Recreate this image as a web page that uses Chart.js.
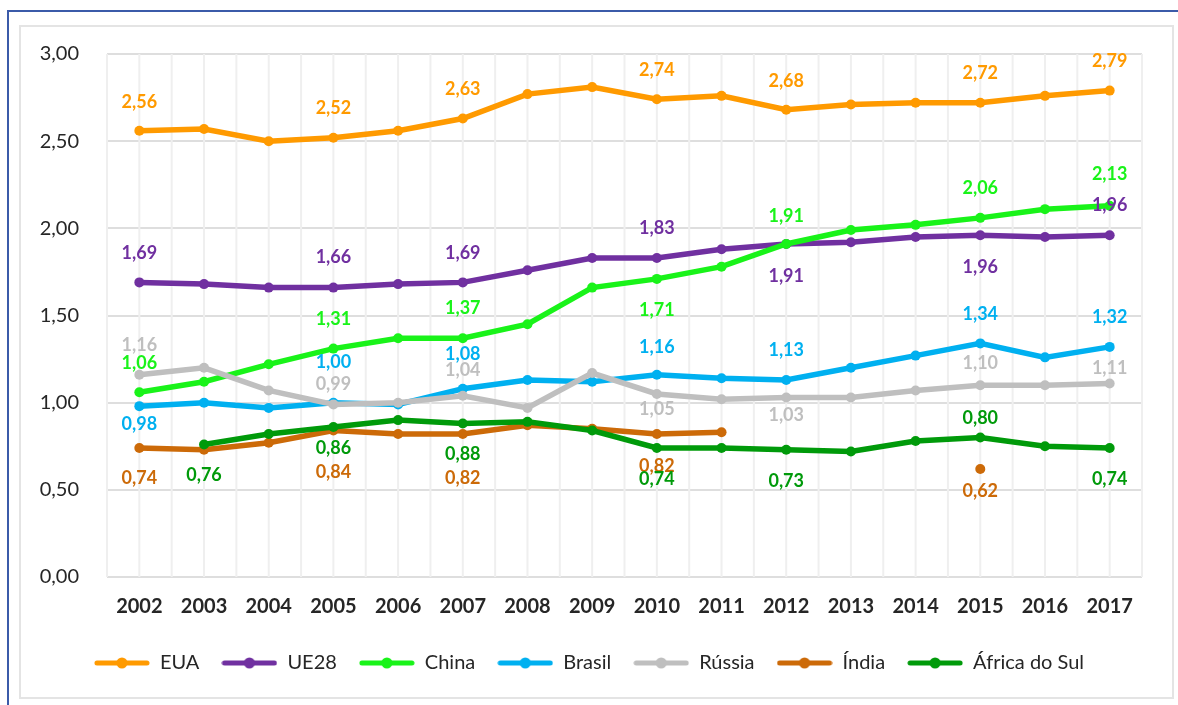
<!DOCTYPE html>
<html>
<head>
<meta charset="utf-8">
<script src="https://cdn.jsdelivr.net/npm/chart.js@4"></script>
<style>
  body { margin: 0; background: #fff; }
  #frame { position: absolute; left: 7px; top: 10px; width: 1171px; height: 695px;
           border-top: 2px solid #3b5ba9; border-left: 2px solid #3b5ba9; }
  #box { position: absolute; left: 19px; top: 25px; width: 1151px; height: 670px;
         border: 2px solid #e4e4e4; }
  canvas { position: absolute; left: 0; top: 0; }
</style>
</head>
<body>
<div id="frame"></div>
<div id="box"></div>
<canvas id="myChart" width="1178" height="705"></canvas>
<script>
const years = ['2002','2003','2004','2005','2006','2007','2008','2009','2010','2011','2012','2013','2014','2015','2016','2017'];
const yTicks = [0, 0.5, 1, 1.5, 2, 2.5, 3];

const eua    = [2.56, 2.57, 2.50, 2.52, 2.56, 2.63, 2.77, 2.81, 2.74, 2.76, 2.68, 2.71, 2.72, 2.72, 2.76, 2.79];
const ue28   = [1.69, 1.68, 1.66, 1.66, 1.68, 1.69, 1.76, 1.83, 1.83, 1.88, 1.91, 1.92, 1.95, 1.96, 1.95, 1.96];
const china  = [1.06, 1.12, 1.22, 1.31, 1.37, 1.37, 1.45, 1.66, 1.71, 1.78, 1.91, 1.99, 2.02, 2.06, 2.11, 2.13];
const brasil = [0.98, 1.00, 0.97, 1.00, 0.99, 1.08, 1.13, 1.12, 1.16, 1.14, 1.13, 1.20, 1.27, 1.34, 1.26, 1.32];
const russia = [1.16, 1.20, 1.07, 0.99, 1.00, 1.04, 0.97, 1.17, 1.05, 1.02, 1.03, 1.03, 1.07, 1.10, 1.10, 1.11];
const india  = [0.74, 0.73, 0.77, 0.84, 0.82, 0.82, 0.87, 0.85, 0.82, 0.83, null, null, null, 0.62, null, null];
const africa = [null, 0.76, 0.82, 0.86, 0.90, 0.88, 0.89, 0.84, 0.74, 0.74, 0.73, 0.72, 0.78, 0.80, 0.75, 0.74];

// which points carry a value label, and how far the label sits from its point (px, + = below)
const euaLbl    = {idx: [0, 3, 5, 8, 10, 13, 15], dy: [-29, -29, -29, -29, -29, -30, -29]};
const ue28Lbl   = {idx: [0, 3, 5, 8, 10, 13, 15], dy: [-29, -30, -29, -30, 32, 32, -30]};
const chinaLbl  = {idx: [0, 3, 5, 8, 10, 13, 15], dy: [-29, -29, -30, 31, -28, -30, -31]};
const brasilLbl = {idx: [0, 3, 5, 8, 10, 13, 15], dy: [18, -40, -35, -28, -30, -29, -30]};
const russiaLbl = {idx: [0, 3, 5, 8, 10, 13, 15], dy: [-30, -20, -26, 15, 18, -22, -15]};
const indiaLbl  = {idx: [0, 3, 5, 8, 13], dy: [30, 42, 44, 32, 22]};
const africaLbl = {idx: [1, 3, 5, 8, 10, 13, 15], dy: [31, 21, 31, 31, 31, -19, 31]};

const series = [
  {label: 'EUA', data: eua, color: '#ff9a00', lbl: euaLbl},
  {label: 'UE28', data: ue28, color: '#7030a0', lbl: ue28Lbl},
  {label: 'China', data: china, color: '#19f319', lbl: chinaLbl},
  {label: 'Brasil', data: brasil, color: '#00b0f0', lbl: brasilLbl},
  {label: 'Rússia', data: russia, color: '#bfbfbf', lbl: russiaLbl},
  {label: 'Índia', data: india, color: '#cc6a08', lbl: indiaLbl},
  {label: 'África do Sul', data: africa, color: '#009a0a', lbl: africaLbl}
];

function fmt(v) { return v.toFixed(2).replace('.', ','); }

function legendIcon(color) {
  const c = document.createElement('canvas');
  c.width = 56; c.height = 14;
  const g = c.getContext('2d');
  g.strokeStyle = color; g.lineWidth = 5; g.lineCap = 'round';
  g.beginPath(); g.moveTo(3, 7); g.lineTo(53, 7); g.stroke();
  g.fillStyle = color;
  g.beginPath(); g.arc(28, 7, 5.5, 0, Math.PI * 2); g.fill();
  return c;
}
const icons = series.map(s => legendIcon(s.color));

const vGrid = {
  id: 'vGrid',
  beforeDatasetsDraw(chart) {
    const x = chart.scales.x, a = chart.chartArea, ctx = chart.ctx;
    const step = x.getPixelForValue(1) - x.getPixelForValue(0);
    ctx.save();
    ctx.strokeStyle = '#efefef';
    ctx.lineWidth = 2;
    for (let i = 0; i < years.length; i++) {
      const px = x.getPixelForValue(i);
      [px - step / 2, px].forEach(p => {
        ctx.beginPath(); ctx.moveTo(p, a.top); ctx.lineTo(p, a.bottom); ctx.stroke();
      });
    }
    const last = x.getPixelForValue(years.length - 1) + step / 2;
    ctx.beginPath(); ctx.moveTo(last, a.top); ctx.lineTo(last, a.bottom); ctx.stroke();
    ctx.restore();
  }
};

const valueLabels = {
  id: 'valueLabels',
  afterDatasetsDraw(chart) {
    const ctx = chart.ctx;
    ctx.save();
    ctx.font = 'bold 18px Lato';
    ctx.textAlign = 'center';
    ctx.textBaseline = 'middle';
    chart.data.datasets.forEach((ds, d) => {
      const meta = chart.getDatasetMeta(d);
      const l = series[d].lbl;
      ctx.fillStyle = ds.borderColor;
      l.idx.forEach((i, k) => {
        const pt = meta.data[i];
        ctx.fillText(fmt(ds.data[i]), pt.x, pt.y + l.dy[k]);
      });
    });
    ctx.restore();
  }
};

const ctx = document.getElementById('myChart').getContext('2d');
const myChart = new Chart(ctx, {
  type: 'line',
  data: {
    labels: years,
    datasets: series.map((s, i) => ({
      label: s.label,
      data: s.data,
      borderColor: s.color,
      backgroundColor: s.color,
      pointBackgroundColor: s.color,
      borderWidth: 5.5,
      pointRadius: 5,
      pointBorderWidth: 0,
      tension: 0,
      order: -i
    }))
  },
  options: {
    responsive: false,
    animation: false,
    devicePixelRatio: 1,
    layout: { padding: { top: 54, right: 0, bottom: 22, left: 0 } },
    plugins: {
      tooltip: { enabled: false },
      legend: {
        position: 'bottom',
        labels: {
          usePointStyle: true,
          pointStyleWidth: 56,
          padding: 22,
          color: '#262626',
          font: { family: 'Lato', size: 20 },
          sort: (a, b) => a.datasetIndex - b.datasetIndex,
          generateLabels(chart) {
            return Chart.defaults.plugins.legend.labels.generateLabels(chart)
              .map(it => Object.assign(it, { pointStyle: icons[it.datasetIndex] }));
          }
        }
      }
    },
    scales: {
      x: {
        offset: true,
        grid: { display: false },
        border: { display: false },
        ticks: { color: '#262626', font: { family: 'Lato', size: 20, weight: 'bold' }, padding: 10 },
        afterFit(scale) { scale.height = 54; }
      },
      y: {
        min: 0,
        max: 3,
        afterBuildTicks(scale) { scale.ticks = yTicks.map(v => ({ value: v })); },
        grid: { color: '#dedede', lineWidth: 2, drawTicks: false },
        border: { display: false },
        ticks: { color: '#262626', font: { family: 'Lato', size: 20 }, padding: 28,
                 callback: v => fmt(v) },
        afterFit(scale) { scale.width = 107; }
      },
      // empty right-hand axis, only keeps the margin on the right
      yRight: {
        position: 'right',
        grid: { display: false },
        border: { display: false },
        ticks: { display: false },
        afterFit(scale) { scale.width = 36; }
      }
    }
  },
  plugins: [vGrid, valueLabels]
});
</script>
</body>
</html>
